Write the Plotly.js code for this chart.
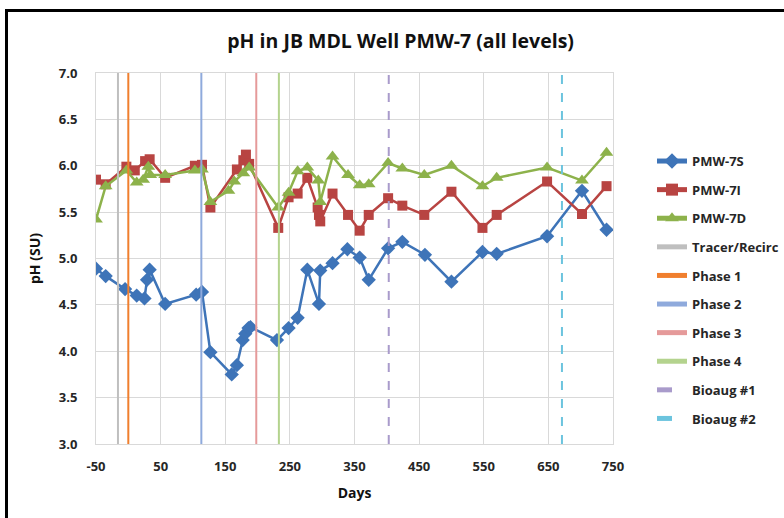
<!DOCTYPE html>
<html><head><meta charset="utf-8">
<script src="https://cdn.plot.ly/plotly-3.0.1.min.js"></script>
<style>
html,body{margin:0;padding:0;background:#fff;}
#chart{width:784px;height:518px;}
#frame{position:absolute;left:5px;top:9px;width:900px;height:700px;border-left:3px solid #000;border-top:3px solid #000;pointer-events:none;}
</style></head>
<body>
<div id="chart"></div>
<div id="frame"></div>
<script>
const days7S = [-50, -35, -5, 13, 25, 29, 33, 57, 105, 114, 127, 160, 168, 177, 181, 186, 189, 230, 248, 262, 277, 295, 297, 316, 339, 358, 372, 402, 424, 459, 500, 548, 570, 648, 702, 740];
const ph7S = [4.89, 4.81, 4.67, 4.60, 4.57, 4.77, 4.88, 4.51, 4.61, 4.64, 3.99, 3.75, 3.85, 4.12, 4.19, 4.25, 4.26, 4.12, 4.25, 4.36, 4.88, 4.51, 4.87, 4.95, 5.10, 5.01, 4.77, 5.11, 5.18, 5.04, 4.75, 5.07, 5.05, 5.24, 5.73, 5.31];

const days7I = [-50, -35, -3, 10, 26, 33, 57, 103, 114, 127, 168, 178, 182, 187, 232, 248, 262, 277, 293, 295, 297, 316, 340, 358, 372, 402, 424, 458, 500, 548, 570, 648, 702, 740];
const ph7I = [5.85, 5.80, 5.99, 5.95, 6.05, 6.07, 5.87, 6.00, 6.01, 5.55, 5.96, 6.06, 6.12, 6.02, 5.33, 5.66, 5.70, 5.87, 5.55, 5.47, 5.40, 5.70, 5.47, 5.30, 5.47, 5.65, 5.57, 5.47, 5.72, 5.33, 5.47, 5.83, 5.48, 5.78];

const days7D = [-50, -35, -3, 13, 23, 31, 34, 57, 103, 114, 127, 155, 164, 178, 187, 232, 248, 262, 277, 294, 297, 316, 340, 358, 372, 402, 424, 458, 500, 548, 570, 648, 702, 740];
const ph7D = [5.42, 5.78, 5.95, 5.82, 5.85, 5.99, 5.90, 5.90, 5.95, 5.96, 5.61, 5.73, 5.83, 5.92, 5.98, 5.55, 5.71, 5.94, 5.98, 5.84, 5.61, 6.10, 5.90, 5.79, 5.80, 6.03, 5.97, 5.90, 6.00, 5.78, 5.87, 5.98, 5.84, 6.14];

const eventNames = ["Tracer/Recirc", "Phase 1", "Phase 2", "Phase 3", "Phase 4", "Bioaug #1", "Bioaug #2"];
const eventDays = [-16, 0, 113, 198, 233, 403, 671];
const eventColors = ["#BFBFBF", "#F07F2E", "#8FAADC", "#E59A9A", "#B4D38E", "#A99BCB", "#6CC4DE"];
const eventDash = ["solid", "solid", "solid", "solid", "solid", "dash", "dash"];

const xTickVals = [-50, 50, 150, 250, 350, 450, 550, 650, 750];
const xTickText = ["-50", "50", "150", "250", "350", "450", "550", "650", "750"];
const yRange = [3.0, 7.0];
const xRange = [-50, 750];

const traces = [];
traces.push({x: days7S, y: ph7S, name: "PMW-7S", mode: "lines+markers", legendgroup: "a",
  line: {color: "#3E74B8", width: 2.5}, marker: {symbol: "diamond", size: 11, color: "#3E74B8"}});
traces.push({x: days7I, y: ph7I, name: "PMW-7I", mode: "lines+markers", legendgroup: "b",
  line: {color: "#B84442", width: 2.5}, marker: {symbol: "square", size: 10, color: "#B84442"}});
traces.push({x: days7D, y: ph7D, name: "PMW-7D", mode: "lines+markers", legendgroup: "c",
  line: {color: "#8DB24B", width: 2.5}, marker: {symbol: "triangle-up", size: 12, color: "#8DB24B"}});
eventNames.forEach((n, i) => {
  traces.push({x: [eventDays[i], eventDays[i]], y: yRange, name: n, mode: "lines", legendgroup: "e" + i,
    line: {color: eventColors[i], width: 2, dash: eventDash[i]}});
});

const fontFam = "Open Sans, Liberation Sans, Arial, sans-serif";
const layout = {
  width: 784, height: 518,
  margin: {l: 96, r: 171, t: 73, b: 74},
  paper_bgcolor: "#fff", plot_bgcolor: "#fff",
  font: {family: fontFam, color: "#262626"},
  title: {text: "<b>pH in JB MDL Well PMW-7 (all levels)</b>", font: {size: 19.5, color: "#111"},
    xref: "container", x: 0.511, xanchor: "center", yref: "container", y: 0.92, yanchor: "middle"},
  xaxis: {range: xRange, tickmode: "array", tickvals: xTickVals, ticktext: xTickText,
    showgrid: true, gridcolor: "#D9D9D9", gridwidth: 1,
    zeroline: false, showline: true, mirror: true, linecolor: "#D9D9D9", linewidth: 1,
    ticks: "outside", ticklen: 10, tickcolor: "rgba(0,0,0,0)",
    tickfont: {size: 13, color: "#262626", weight: "bold"},
    title: {text: "<b>Days</b>", font: {size: 14, color: "#111"}, standoff: 14}},
  yaxis: {range: yRange, tick0: 3, dtick: 0.5, tickformat: ".1f", showgrid: true, gridcolor: "#D9D9D9", gridwidth: 1,
    zeroline: false, showline: true, mirror: true, linecolor: "#D9D9D9", linewidth: 1,
    ticks: "outside", ticklen: 15, tickcolor: "rgba(0,0,0,0)",
    tickfont: {size: 13, color: "#262626", weight: "bold"},
    title: {text: "<b>pH (SU)</b>", font: {size: 14, color: "#111"}, standoff: 14}},
  legend: {xref: "container", x: 652 / 784, xanchor: "left", yref: "paper", y: 0.803, yanchor: "top",
    traceorder: "grouped", tracegroupgap: 8.7,
    font: {size: 13, color: "#262626", weight: "bold"}, itemsizing: "constant", bgcolor: "rgba(0,0,0,0)"},
  showlegend: true
};
Plotly.newPlot("chart", traces, layout, {displayModeBar: false, staticPlot: true});
</script>
</body></html>
